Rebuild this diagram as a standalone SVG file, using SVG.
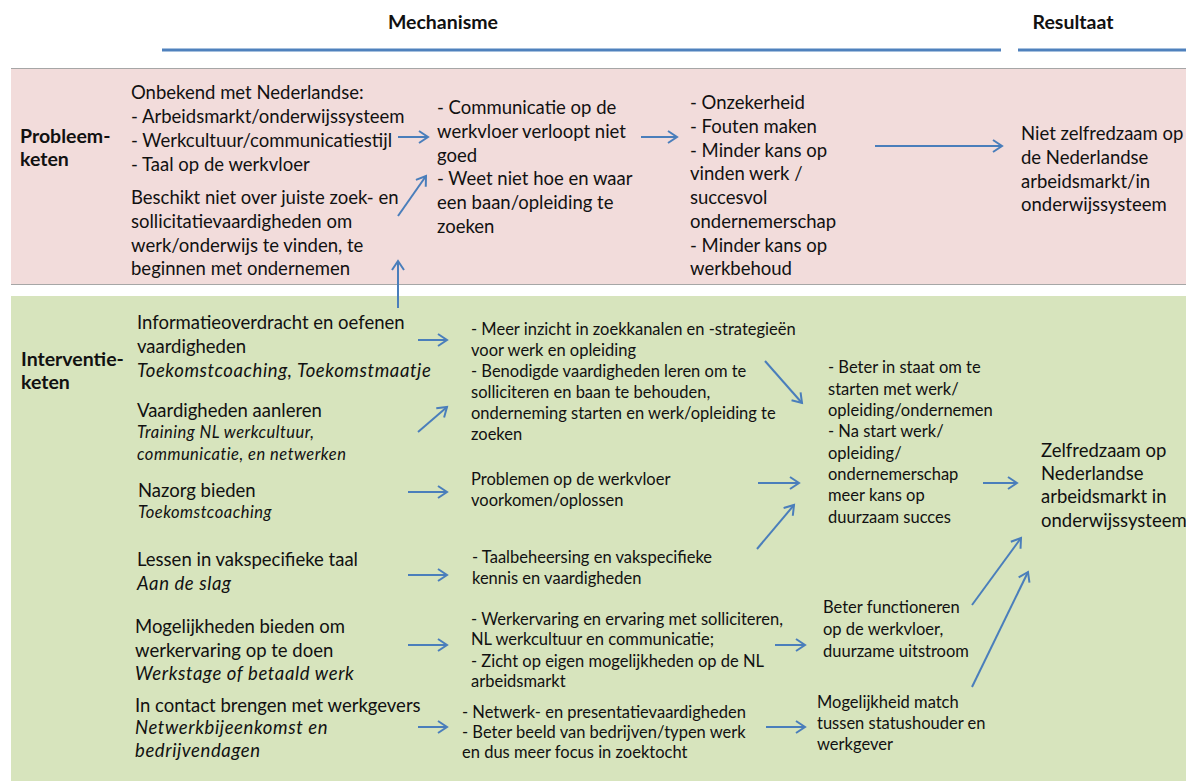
<svg xmlns="http://www.w3.org/2000/svg" width="1186" height="781" viewBox="0 0 1186 781">
<style>
.t{font-family:Lato,"Open Sans","Liberation Sans",sans-serif;font-size:18.5px;fill:#111}
.s{font-family:Lato,"Open Sans","Liberation Sans",sans-serif;font-size:16.5px;fill:#111}
.b{font-weight:bold;font-size:19.5px}
.t.i{font-style:italic;letter-spacing:0.6px}
.s.i{font-style:italic;letter-spacing:0.5px}
.c{stroke:#4a7ebb;stroke-width:2;fill:none;marker-end:url(#ah)}
.hl{stroke:#4f81bd;stroke-width:3}
</style>
<defs>
<marker id="ah" markerUnits="userSpaceOnUse" markerWidth="14" markerHeight="14" refX="11" refY="7" orient="auto">
<path d="M2,1 L11,7 L2,13" fill="none" stroke="#4a7ebb" stroke-width="2"/>
</marker>
</defs>
<rect width="1186" height="781" fill="#fff"/>
<g id="header">
<text class="t b" x="443" y="29" text-anchor="middle">Mechanisme</text>
<text class="t b" x="1073" y="29" text-anchor="middle">Resultaat</text>
<line class="hl" x1="162" y1="50" x2="1001" y2="50"/>
<line class="hl" x1="1018" y1="50" x2="1186" y2="50"/>
</g>
<g id="bands">
<rect x="11" y="68" width="1175" height="216" fill="#f2dcdb"/>
<line x1="11" y1="68.5" x2="1186" y2="68.5" stroke="#a6a6a6" stroke-width="1"/>
<line x1="11" y1="284.5" x2="1186" y2="284.5" stroke="#a6a6a6" stroke-width="1"/>
<rect x="11" y="296" width="1175" height="485" fill="#d7e4bd"/>
</g>
<g id="probleem-label"><text class="t b" x="20" y="143">Probleem-</text><text class="t b" x="20" y="166">keten</text></g>
<g id="p-oorzaken">
<text class="t" x="131" y="99">Onbekend met Nederlandse:</text>
<text class="t" x="131" y="123">- Arbeidsmarkt/onderwijssysteem</text>
<text class="t" x="131" y="147">- Werkcultuur/communicatiestijl</text>
<text class="t" x="131" y="171">- Taal op de werkvloer</text>
<text class="t" x="131" y="204">Beschikt niet over juiste zoek- en</text>
<text class="t" x="131" y="228">sollicitatievaardigheden om</text>
<text class="t" x="131" y="252">werk/onderwijs te vinden, te</text>
<text class="t" x="131" y="275">beginnen met ondernemen</text>
</g>
<g id="p-mechanisme">
<text class="t" x="437" y="114">- Communicatie op de</text>
<text class="t" x="437" y="138">werkvloer verloopt niet</text>
<text class="t" x="437" y="162">goed</text>
<text class="t" x="437" y="185">- Weet niet hoe en waar</text>
<text class="t" x="437" y="209">een baan/opleiding te</text>
<text class="t" x="437" y="233">zoeken</text>
</g>
<g id="p-gevolgen">
<text class="t" x="690" y="109">- Onzekerheid</text>
<text class="t" x="690" y="133">- Fouten maken</text>
<text class="t" x="690" y="157">- Minder kans op</text>
<text class="t" x="690" y="180">vinden werk /</text>
<text class="t" x="690" y="204">succesvol</text>
<text class="t" x="690" y="228">ondernemerschap</text>
<text class="t" x="690" y="252">- Minder kans op</text>
<text class="t" x="690" y="275">werkbehoud</text>
</g>
<g id="p-resultaat">
<text class="t" x="1021" y="140">Niet zelfredzaam op</text>
<text class="t" x="1021" y="164">de Nederlandse</text>
<text class="t" x="1021" y="188">arbeidsmarkt/in</text>
<text class="t" x="1021" y="211">onderwijssysteem</text>
</g>
<g id="interventie-label"><text class="t b" x="21" y="366">Interventie-</text><text class="t b" x="21" y="389">keten</text></g>
<g id="i-info">
<text class="t" x="137" y="329">Informatieoverdracht en oefenen</text>
<text class="t" x="137" y="353">vaardigheden</text>
<text class="t i" x="137" y="377">Toekomstcoaching, Toekomstmaatje</text>
</g>
<g id="i-vaardigheden">
<text class="t" x="137" y="417">Vaardigheden aanleren</text>
<text class="s i" x="137" y="438">Training NL werkcultuur,</text>
<text class="s i" x="137" y="460">communicatie, en netwerken</text>
</g>
<g id="i-nazorg">
<text class="t" x="138" y="497">Nazorg bieden</text>
<text class="s i" x="138" y="518">Toekomstcoaching</text>
</g>
<g id="i-lessen">
<text class="t" x="137" y="566">Lessen in vakspecifieke taal</text>
<text class="t i" x="137" y="590">Aan de slag</text>
</g>
<g id="i-werkervaring">
<text class="t" x="135" y="633">Mogelijkheden bieden om</text>
<text class="t" x="135" y="657">werkervaring op te doen</text>
<text class="t i" x="135" y="680">Werkstage of betaald werk</text>
</g>
<g id="i-contact">
<text class="t" x="135" y="712">In contact brengen met werkgevers</text>
<text class="t i" x="135" y="734">Netwerkbijeenkomst en</text>
<text class="t i" x="135" y="757">bedrijvendagen</text>
</g>
<g id="m-inzicht">
<text class="s" x="471" y="335">- Meer inzicht in zoekkanalen en -strategieën</text>
<text class="s" x="471" y="356">voor werk en opleiding</text>
<text class="s" x="471" y="377">- Benodigde vaardigheden leren om te</text>
<text class="s" x="471" y="398">solliciteren en baan te behouden,</text>
<text class="s" x="471" y="419">onderneming starten en werk/opleiding te</text>
<text class="s" x="471" y="440">zoeken</text>
</g>
<g id="m-problemen">
<text class="s" x="471" y="485">Problemen op de werkvloer</text>
<text class="s" x="471" y="506">voorkomen/oplossen</text>
</g>
<g id="m-taal">
<text class="s" x="472" y="563">- Taalbeheersing en vakspecifieke</text>
<text class="s" x="472" y="584">kennis en vaardigheden</text>
</g>
<g id="m-werkervaring">
<text class="s" x="471" y="625">- Werkervaring en ervaring met solliciteren,</text>
<text class="s" x="471" y="645">NL werkcultuur en communicatie;</text>
<text class="s" x="471" y="667">- Zicht op eigen mogelijkheden op de NL</text>
<text class="s" x="471" y="687">arbeidsmarkt</text>
</g>
<g id="m-netwerk">
<text class="s" x="462" y="718">- Netwerk- en presentatievaardigheden</text>
<text class="s" x="462" y="738">- Beter beeld van bedrijven/typen werk</text>
<text class="s" x="462" y="758">en dus meer focus in zoektocht</text>
</g>
<g id="r-beter-starten">
<text class="s" x="828" y="373">- Beter in staat om te</text>
<text class="s" x="828" y="395">starten met werk/</text>
<text class="s" x="828" y="416">opleiding/ondernemen</text>
<text class="s" x="828" y="437">- Na start werk/</text>
<text class="s" x="828" y="459">opleiding/</text>
<text class="s" x="828" y="480">ondernemerschap</text>
<text class="s" x="828" y="501">meer kans op</text>
<text class="s" x="828" y="523">duurzaam succes</text>
</g>
<g id="r-functioneren">
<text class="s" x="823" y="613">Beter functioneren</text>
<text class="s" x="823" y="635">op de werkvloer,</text>
<text class="s" x="823" y="657">duurzame uitstroom</text>
</g>
<g id="r-match">
<text class="s" x="817" y="708">Mogelijkheid match</text>
<text class="s" x="817" y="729">tussen statushouder en</text>
<text class="s" x="817" y="750">werkgever</text>
</g>
<g id="i-resultaat">
<text class="t" x="1041" y="457">Zelfredzaam op</text>
<text class="t" x="1041" y="480">Nederlandse</text>
<text class="t" x="1041" y="503">arbeidsmarkt in</text>
<text class="t" x="1041" y="527">onderwijssysteem</text>
</g>
<g id="connectors">
<line class="c" x1="398" y1="137" x2="428" y2="137"/>
<line class="c" x1="398" y1="216" x2="426" y2="176"/>
<line class="c" x1="398" y1="308" x2="398" y2="261"/>
<line class="c" x1="641" y1="137" x2="677" y2="137"/>
<line class="c" x1="875" y1="146" x2="1002" y2="146"/>
<line class="c" x1="418" y1="340" x2="447" y2="340"/>
<line class="c" x1="418" y1="432" x2="447" y2="407"/>
<line class="c" x1="408" y1="492" x2="447" y2="492"/>
<line class="c" x1="408" y1="575" x2="447" y2="575"/>
<line class="c" x1="408" y1="645" x2="447" y2="645"/>
<line class="c" x1="418" y1="727" x2="447" y2="727"/>
<line class="c" x1="765" y1="361" x2="802" y2="403"/>
<line class="c" x1="758" y1="483" x2="799" y2="483"/>
<line class="c" x1="757" y1="549" x2="794" y2="505"/>
<line class="c" x1="775" y1="645" x2="805" y2="645"/>
<line class="c" x1="766" y1="727" x2="805" y2="727"/>
<line class="c" x1="983" y1="483" x2="1017" y2="483"/>
<line class="c" x1="972" y1="605" x2="1021" y2="538"/>
<line class="c" x1="972" y1="687" x2="1028" y2="572"/>
</g>
</svg>
